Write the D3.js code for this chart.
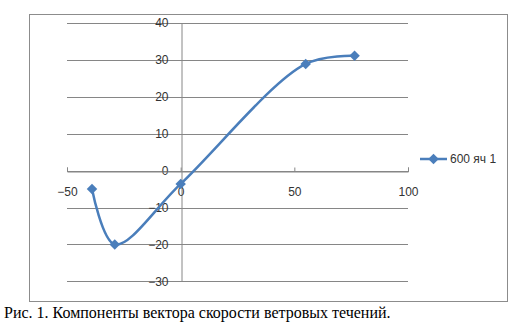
<!DOCTYPE html>
<meta charset="utf-8">
<title>600 яч 1</title>
<style>
body { margin: 0; background: #fff; }
.tick text { font-family: "Liberation Sans", Arial, sans-serif; font-size: 12px; fill: #333; }
</style>
<body>
<div id="chart"></div>
<script src="https://cdn.jsdelivr.net/npm/d3@7"></script>
<script>
  // series "600 яч 1"
  var xs = [-39, -29, 0, 55, 76.5];
  var ys = [-5, -20, -3.6, 28.9, 31.1];
  var xTicks = [-50, 0, 50, 100];
  var yTicks = [-30, -20, -10, 0, 10, 20, 30, 40];
  var seriesName = "600 яч 1";
  var caption = "Рис. 1. Компоненты вектора скорости ветровых течений.";

  var width = 524, height = 326;
  var blue = "#4a7ebb", grid = "#868686";

  var svg = d3.select("#chart").append("svg")
      .attr("width", width)
      .attr("height", height);

  // chart frame
  svg.append("rect")
      .attr("x", 29.5).attr("y", 14.5)
      .attr("width", 478).attr("height", 287)
      .attr("fill", "#fff").attr("stroke", "#8c8c8c");

  var x = d3.scaleLinear().domain([-50, 100]).range([67, 408]);
  var y = d3.scaleLinear().domain([-30, 40]).range([281.3, 23]);

  // horizontal gridlines
  svg.append("g").selectAll("line")
    .data(yTicks)
    .enter().append("line")
      .attr("x1", x(-50)).attr("x2", x(100))
      .attr("y1", function(d) { return Math.round(y(d)) + 0.5; })
      .attr("y2", function(d) { return Math.round(y(d)) + 0.5; })
      .attr("stroke", grid);

  // vertical axis at x = 0
  var yAxis = svg.append("g")
      .attr("transform", "translate(" + (Math.round(x(0)) + 0.5) + ",0)")
      .call(d3.axisLeft(y).tickValues(yTicks).tickSize(0).tickPadding(13));
  yAxis.select(".domain").attr("stroke", grid);

  // horizontal axis at y = 0
  var xAxis = svg.append("g")
      .attr("transform", "translate(0," + (Math.round(y(0)) + 0.5) + ")")
      .call(d3.axisBottom(x).tickValues(xTicks).tickSize(-4).tickPadding(14));
  xAxis.select(".domain").attr("stroke", grid);
  xAxis.selectAll(".tick line").attr("stroke", grid);
  xAxis.selectAll(".tick text").attr("dy", "0.9em");

  var pts = xs.map(function(d, i) { return [x(d), y(ys[i])]; });

  var line = d3.line().curve(d3.curveCatmullRom.alpha(0.5));
  svg.append("path")
      .attr("d", line(pts))
      .attr("fill", "none")
      .attr("stroke", blue)
      .attr("stroke-width", 2.5);

  var diamond = d3.symbol().type(d3.symbolDiamond2).size(70);
  svg.append("g").selectAll("path")
    .data(pts)
    .enter().append("path")
      .attr("transform", function(d) { return "translate(" + d[0] + "," + d[1] + ")"; })
      .attr("d", diamond)
      .attr("fill", blue);

  // legend
  var lg = svg.append("g").attr("transform", "translate(420,159)");
  lg.append("line").attr("x1", 0).attr("x2", 27)
      .attr("stroke", blue).attr("stroke-width", 2.5);
  lg.append("path").attr("transform", "translate(13.5,0)").attr("d", diamond).attr("fill", blue);
  lg.append("text").attr("x", 30).attr("dy", "0.35em")
      .attr("font-family", "Liberation Sans, Arial, sans-serif")
      .attr("font-size", 12).attr("fill", "#333")
      .text(seriesName);

  svg.append("text")
      .attr("x", 4).attr("y", 318)
      .attr("font-family", "'Liberation Serif', 'DejaVu Serif', serif")
      .attr("font-size", 16).attr("fill", "#000")
      .text(caption);
</script>
</body>
</html>
